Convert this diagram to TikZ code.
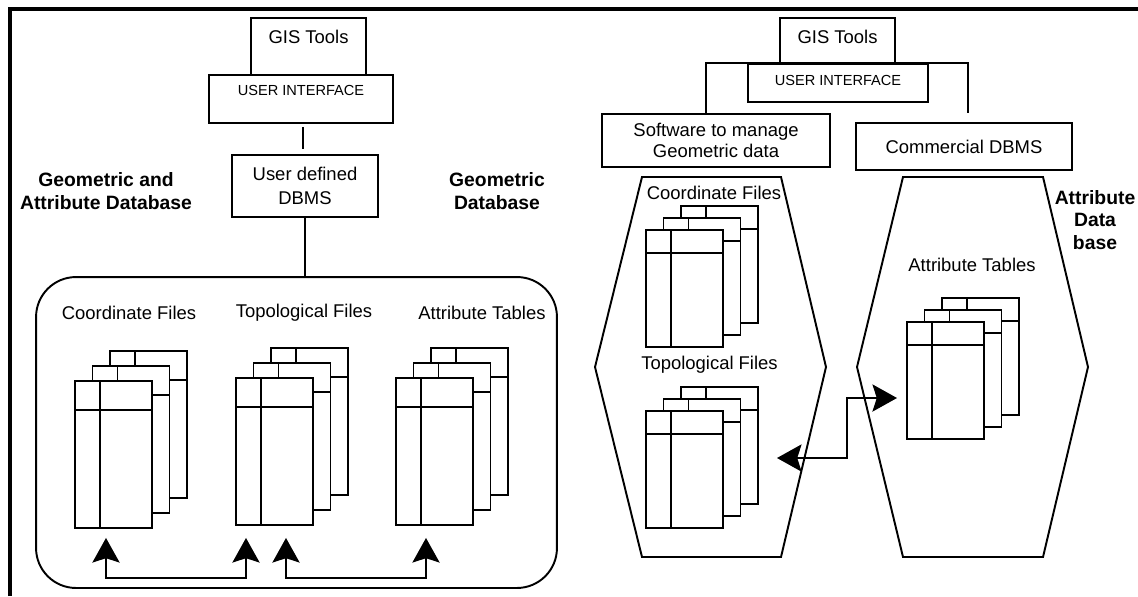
\documentclass[tikz,border=0pt]{standalone}
\usepackage{fontspec}
\setmainfont{Liberation Sans}
\usetikzlibrary{arrows.meta,calc}

\tikzset{
  box/.style={draw, line width=1.1pt, fill=white, inner sep=0pt, align=center,
    font=\fontsize{10.5}{12.5}\selectfont},
  uitext/.style={inner sep=0pt, font=\fontsize{8.3}{10}\selectfont},
  filepage/.style={draw, line width=1.1pt, fill=white, inner sep=0pt, outer sep=0pt,
    minimum width=1.54cm},
  lbl/.style={inner sep=0pt, font=\fontsize{10.5}{12.5}\selectfont},
  dblabel/.style={inner sep=0pt, align=center, font=\fontsize{11}{12.8}\selectfont\bfseries},
  conn/.style={line width=1pt},
  twoway/.style={line width=1pt,
    {Stealth[length=14pt,width=15.5pt,inset=2.5pt]}-{Stealth[length=14pt,width=15.5pt,inset=2.5pt]}},
}

% three sheets of a file, back to front
\newcommand{\filestack}[6]{%
  \foreach \i in {2,1,0}{
    \node[filepage, minimum height=#4, anchor=north west] (#1\i) at ($(#2,#3)+(\i*17.5,-\i*#6)$) {};
    \draw[line width=1.1pt] ($(#1\i.north west)+(25,0)$) -- ($(#1\i.south west)+(25,0)$);
    \draw[line width=1.1pt] ($(#1\i.north west)+(0,#5)$) -- ($(#1\i.north east)+(0,#5)$);
  }%
}

\begin{document}
\begin{tikzpicture}[x=0.02cm, y=-0.02cm]
  \useasboundingbox (0,0) rectangle (1138,596);
  \draw[line width=1.8pt] (10,596) -- (10,9) -- (1138,9);

  % left: one database
  \node[box, minimum width=2.3cm, minimum height=1.14cm] (gis1) at (308.5,46.5) {};
  \node[lbl] (gis1text) at (308.5,37) {GIS Tools};
  \node[box, minimum width=3.68cm, minimum height=0.96cm] (ui1) at (301,99) {};
  \node[uitext] (ui1text) at ($(ui1.north)+(0,16)$) {USER INTERFACE};
  \node[box, minimum width=2.92cm, minimum height=1.24cm, font=\fontsize{10.5}{13.5}\selectfont] (udb) at (305,186) {User defined\\DBMS};
  \draw[conn] ($(ui1.south)+(2,3)$) -- ($(udb.north)+(-2,-5)$);

  \node[dblabel] (labga) at (106,191) {Geometric and\\Attribute Database};
  \node[dblabel] (labgd) at (497,191) {Geometric\\Database};

  \node[draw, line width=1.1pt, rounded corners=0.8cm, minimum width=10.42cm, minimum height=6.22cm] (gdb) at (296.5,432.5) {};
  \draw[conn] (udb.south) -- (udb.south |- gdb.north);

  \node[lbl] (labcf) at (129,313) {Coordinate Files};
  \node[lbl] (labtf) at (304,313) {Topological Files};
  \node[lbl] (labat) at (482,313) {Attribute Tables};

  \filestack{cf}{75}{381}{2.94cm}{29}{15}
  \filestack{tf}{236}{378}{2.94cm}{29}{15}
  \filestack{at}{396}{378}{2.94cm}{29}{15}

  \draw[twoway] ($(cf0.south west)+(31,10)$) -- ($(cf0.south west)+(31,50)$) -| ($(tf0.south west)+(10,13)$);
  \draw[twoway] ($(tf0.south west)+(50,13)$) -- ++(0,40) -| ($(at0.south west)+(30,13)$);

  % right: geometric and attribute parts apart
  \node[box, minimum width=2.3cm, minimum height=0.9cm] (gis2) at (837.5,40.5) {};
  \node[lbl] (gis2text) at (837.5,37) {GIS Tools};
  \node[box, minimum width=4.56cm, minimum height=1.06cm, font=\fontsize{10.5}{11.5}\selectfont] (sw) at (716,140.5) {Software to manage\\Geometric data};
  \node[box, minimum width=4.32cm, minimum height=0.94cm] (cdb) at (964,146.5) {Commercial DBMS};
  \draw[conn] ($(sw.north)+(-10,0)$) |- ($(cdb.north)+(4,-59)$) -- ($(cdb.north)+(4,-9)$);
  \node[box, minimum width=3.6cm, minimum height=0.76cm] (ui2) at (838,83) {};
  \node[uitext] (ui2text) at (838,80) {USER INTERFACE};

  \draw[line width=1.1pt] (642,177) -- (781,177) -- (826,367) -- (781,557) -- (642,557) -- (595,367) -- cycle;
  \draw[line width=1.1pt] (903,177) -- (1043,177) -- (1088,367) -- (1043,557) -- (903,557) -- (857,367) -- cycle;

  \node[lbl] (labrc) at (714,193) {Coordinate Files};
  \node[lbl] (labrt) at (709.5,365) {Topological Files};
  \node[lbl] (labra) at (972,265) {Attribute Tables};
  \node[dblabel] (labad) at (1095,220) {Attribute\\Data\\base};

  \filestack{rc}{646}{230}{2.34cm}{23}{12}
  \filestack{rt}{646}{411}{2.34cm}{23}{12}
  \filestack{ra}{907}{322}{2.34cm}{23}{12}

  \draw[twoway] ($(rt0.north east)+(54,47)$) -- ++(70,0) |- ($(ra0.north west)+(-10,76)$);
\end{tikzpicture}
\end{document}
